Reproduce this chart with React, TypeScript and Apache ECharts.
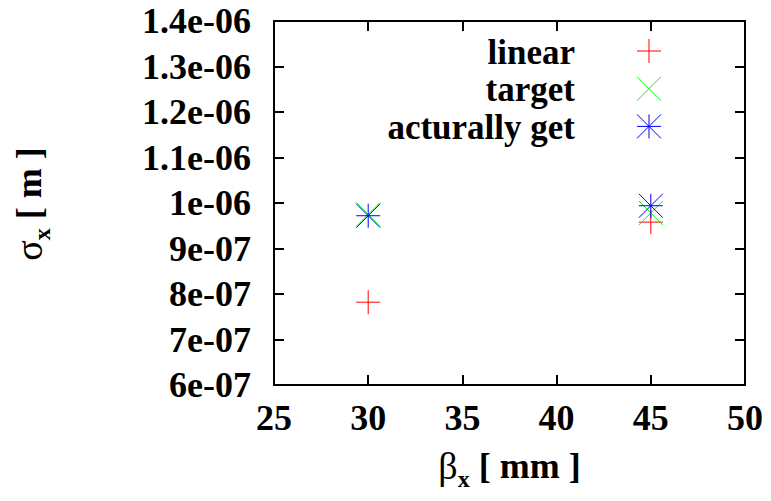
import React, { useEffect, useRef } from 'react';
import * as echarts from 'echarts';

// Beam size at the two beta settings
const seriesNames = ['linear', 'target', 'acturally get'];
const betaX = [30, 45];
const linearSigma = [7.82e-7, 9.58e-7];
const targetSigma = [9.75e-7, 9.78e-7];
const actualSigma = [9.72e-7, 9.94e-7];
const seriesColors = ['#ff0000', '#00ff00', '#0000ff'];
const seriesMarkers = ['plus', 'cross', 'star'];

const X_MIN = 25;
const X_MAX = 50;
const X_STEP = 5;
const Y_MIN = 6e-7;
const Y_MAX = 1.4e-6;
const Y_STEP = 1e-7;

const FONT = '"Liberation Serif", "Times New Roman", serif';
const FONT_SIZE = 36;
const LEGEND_FONT_SIZE = 35;

// Marker strokes inside a 24x24 box
const SEGMENTS: Record<string, number[][]> = {
  plus: [[12, 0, 12, 24], [0, 12, 24, 12]],
  cross: [[0, 0, 24, 24], [24, 0, 0, 24]],
  star: [[12, 0, 12, 24], [0, 12, 24, 12], [0, 0, 24, 24], [24, 0, 0, 24]],
};

const symbolPath = (kind: string) =>
  'path://' + SEGMENTS[kind].map(([a, b, c, d]) => `M${a},${b}L${c},${d}`).join('');

// gnuplot-style %g labels: 1.4e-06, 1e-06, 9e-07
const sci = (v: number) => {
  if (v === 0) return '0';
  const [m, e] = Number(v.toPrecision(3)).toExponential().split('e');
  const exp = parseInt(e, 10);
  const sign = exp < 0 ? '-' : '+';
  return `${Number(m)}e${sign}${String(Math.abs(exp)).padStart(2, '0')}`;
};

const axisLine = { show: true, lineStyle: { color: '#000', width: 2 } };
const axisTick = { show: true, inside: true, length: 10, lineStyle: { color: '#000', width: 2 } };
const labelStyle = { fontFamily: FONT, fontSize: FONT_SIZE, fontWeight: 'bold' as const, color: '#000' };

export default function App() {
  const ref = useRef<HTMLDivElement>(null);

  useEffect(() => {
    document.body.style.margin = '0';
    if (!ref.current) return;
    const chart = echarts.init(ref.current, undefined, { renderer: 'svg' });

    const dataSets = [linearSigma, targetSigma, actualSigma];

    const legendGraphics: any[] = [];
    seriesNames.forEach((name, i) => {
      const cy = 51 + i * 37.7;
      legendGraphics.push({
        type: 'text',
        x: 575,
        y: cy + 1,
        style: {
          text: name,
          align: 'right',
          verticalAlign: 'middle',
          fontFamily: FONT,
          fontSize: LEGEND_FONT_SIZE,
          fontWeight: 'bold',
          fill: '#000',
        },
      });
      legendGraphics.push({
        type: 'group',
        x: 649 - 12,
        y: cy - 12,
        children: SEGMENTS[seriesMarkers[i]].map(([a, b, c, d]) => ({
          type: 'line',
          shape: { x1: a, y1: b, x2: c, y2: d },
          style: { stroke: seriesColors[i], lineWidth: 1 },
        })),
      });
    });

    const nameRich = {
      g: { fontFamily: FONT, fontSize: 38, fontWeight: 'normal', lineHeight: 50, verticalAlign: 'middle' },
      s: { fontFamily: FONT, fontSize: 24, fontWeight: 'bold', lineHeight: 50, verticalAlign: 'bottom' },
      b: { fontFamily: FONT, fontSize: FONT_SIZE, fontWeight: 'bold', lineHeight: 50, verticalAlign: 'middle' },
    };

    chart.setOption({
      animation: false,
      backgroundColor: '#fff',
      grid: { left: 274, right: 26, top: 21, bottom: 116, containLabel: false, outerBoundsMode: 'none' },
      xAxis: [
        {
          type: 'value',
          min: X_MIN,
          max: X_MAX,
          interval: X_STEP,
          position: 'bottom',
          axisLine,
          axisTick,
          splitLine: { show: false },
          axisLabel: { ...labelStyle, margin: 15 },
        },
        {
          type: 'value',
          min: X_MIN,
          max: X_MAX,
          interval: X_STEP,
          position: 'top',
          axisLine,
          axisTick,
          splitLine: { show: false },
          axisLabel: { show: false },
        },
      ],
      yAxis: [
        {
          type: 'value',
          min: Y_MIN,
          max: Y_MAX,
          interval: Y_STEP,
          position: 'left',
          axisLine,
          axisTick,
          splitLine: { show: false },
          axisLabel: { ...labelStyle, margin: 23, formatter: (v: number) => sci(v) },
        },
        {
          type: 'value',
          min: Y_MIN,
          max: Y_MAX,
          interval: Y_STEP,
          position: 'right',
          axisLine,
          axisTick,
          splitLine: { show: false },
          axisLabel: { show: false },
        },
      ],
      series: seriesNames.map((name, i) => ({
        name,
        type: 'scatter',
        xAxisIndex: 0,
        yAxisIndex: 0,
        data: betaX.map((x, j) => [x, dataSets[i][j]]),
        symbol: symbolPath(seriesMarkers[i]),
        symbolSize: 24,
        itemStyle: { color: 'transparent', borderColor: seriesColors[i], borderWidth: 1, opacity: 1 },
        emphasis: { disabled: true },
        silent: true,
      })),
      graphic: [
        {
          type: 'text',
          x: 509.5,
          y: 466,
          style: {
            text: '{g|β}{s|x}{b| [ mm ]}',
            rich: nameRich,
            align: 'center',
            verticalAlign: 'middle',
            fill: '#000',
          },
        },
        {
          type: 'text',
          x: 29,
          y: 204,
          rotation: Math.PI / 2,
          style: {
            text: '{g|σ}{s|x}{b| [ m ]}',
            rich: nameRich,
            align: 'center',
            verticalAlign: 'middle',
            fill: '#000',
          },
        },
        ...legendGraphics,
      ],
    });

    return () => chart.dispose();
  }, []);

  return <div ref={ref} style={{ width: 771, height: 501 }} />;
}
